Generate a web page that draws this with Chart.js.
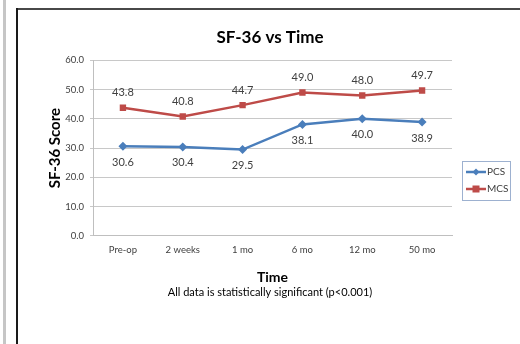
<!DOCTYPE html>
<html>
<head>
<meta charset="utf-8">
<script src="https://cdn.jsdelivr.net/npm/chart.js@4/dist/chart.umd.min.js"></script>
<style>
  html, body { margin: 0; padding: 0; background: #fff; overflow: hidden; }
  canvas { display: block; }
</style>
</head>
<body>
<canvas id="c" width="520" height="344"></canvas>
<script>
const categories = ["Pre-op", "2 weeks", "1 mo", "6 mo", "12 mo", "50 mo"];
const pcsValues = [30.6, 30.4, 29.5, 38.1, 40.0, 38.9];
const mcsValues = [43.8, 40.8, 44.7, 49.0, 48.0, 49.7];
const yTicks = [0, 10, 20, 30, 40, 50, 60];
const seriesNames = ["PCS", "MCS"];

const FONT = "Lato, 'Open Sans', sans-serif";
const PCS_COLOR = "#4A7EBB";
const MCS_COLOR = "#BE4B48";

const frame = {
  id: "frame",
  beforeDraw(chart) {
    const ctx = chart.ctx;
    ctx.save();
    ctx.fillStyle = "#fff";
    ctx.fillRect(0, 0, 520, 344);
    ctx.fillStyle = "#C6C6C6";
    ctx.fillRect(3, 0, 3, 344);
    ctx.fillStyle = "#484848";
    ctx.fillRect(16, 8, 504, 2);
    ctx.fillStyle = "#1a1a1a";
    ctx.fillRect(16, 8, 2, 336);
    ctx.restore();
  }
};

const dataLabels = {
  id: "dataLabels",
  afterDatasetsDraw(chart) {
    const ctx = chart.ctx;
    ctx.save();
    ctx.font = "11px " + FONT;
    ctx.fillStyle = "#404040";
    ctx.textAlign = "center";
    ctx.textBaseline = "middle";
    chart.data.datasets.forEach((ds, i) => {
      const meta = chart.getDatasetMeta(i);
      meta.data.forEach((pt, j) => {
        const v = ds.data[j].toFixed(1);
        const dy = i === 0 ? 16 : -15;
        ctx.fillText(v, pt.x, pt.y + dy);
      });
    });
    ctx.restore();
  }
};

const customLegend = {
  id: "customLegend",
  afterDraw(chart) {
    const ctx = chart.ctx;
    ctx.save();
    const x0 = 462, y0 = 161, w = 48, h = 39;
    ctx.strokeStyle = "#9DB1D0";
    ctx.lineWidth = 1;
    ctx.strokeRect(x0 + 0.5, y0 + 0.5, w, h);
    const rows = [172, 189];
    chart.data.datasets.forEach((ds, i) => {
      const y = rows[i];
      ctx.strokeStyle = ds.borderColor;
      ctx.lineWidth = 2.5;
      ctx.beginPath();
      ctx.moveTo(466, y);
      ctx.lineTo(486, y);
      ctx.stroke();
      ctx.fillStyle = ds.backgroundColor;
      if (i === 0) {
        ctx.beginPath();
        ctx.moveTo(476, y - 3.5); ctx.lineTo(479.5, y); ctx.lineTo(476, y + 3.5); ctx.lineTo(472.5, y);
        ctx.closePath(); ctx.fill();
      } else {
        ctx.fillRect(472.5, y - 3.5, 7, 7);
      }
      ctx.fillStyle = "#404040";
      ctx.font = "10px " + FONT;
      ctx.textAlign = "left";
      ctx.textBaseline = "middle";
      ctx.fillText(ds.label, 487, y);
    });
    ctx.restore();
  }
};

new Chart(document.getElementById("c"), {
  type: "line",
  data: {
    labels: categories,
    datasets: [
      {
        label: seriesNames[0], data: pcsValues,
        borderColor: PCS_COLOR, backgroundColor: PCS_COLOR,
        borderWidth: 2.5, pointStyle: "rectRot", pointRadius: 4.5,
        pointBorderWidth: 0, tension: 0
      },
      {
        label: seriesNames[1], data: mcsValues,
        borderColor: MCS_COLOR, backgroundColor: MCS_COLOR,
        borderWidth: 2.5, pointStyle: "rect", pointRadius: 4.5,
        pointBorderWidth: 0, tension: 0
      }
    ]
  },
  options: {
    responsive: false,
    animation: false,
    layout: { padding: { left: 40, right: 20, top: 0, bottom: 45 } },
    plugins: {
      legend: { display: false },
      tooltip: { enabled: false },
      title: {
        display: true, text: "SF-36 vs Time", color: "#000",
        font: { family: FONT, size: 17, weight: "bold" },
        padding: { top: 27, bottom: 13 }
      },
      subtitle: {
        display: true, position: "bottom",
        text: "All data is statistically significant (p<0.001)", color: "#000",
        font: { family: FONT, size: 11 },
        padding: { top: 0, bottom: 0 }
      }
    },
    scales: {
      x: {
        offset: true,
        grid: { display: false, drawTicks: false },
        border: { display: true, color: "#BFBFBF", width: 1 },
        ticks: { color: "#404040", font: { family: FONT, size: 9.5 }, padding: 8 },
        title: {
          display: true, text: "Time", color: "#000",
          font: { family: FONT, size: 14, weight: "bold" },
          padding: { top: 0, bottom: 0 }
        },
        afterFit(scale) { scale.height = 50; }
      },
      y: {
        min: 0, max: 60,
        afterBuildTicks(scale) { scale.ticks = yTicks.map(v => ({ value: v })); },
        grid: { color: "#C8C8C8", lineWidth: 1, tickLength: 3, drawTicks: true },
        border: { display: true, color: "#BFBFBF", width: 1 },
        ticks: {
          color: "#404040", font: { family: FONT, size: 9.5 }, padding: 6,
          callback: (v) => Number(v).toFixed(1)
        },
        title: {
          display: true, text: "SF-36 Score", color: "#000",
          font: { family: FONT, size: 15, weight: "bold" },
          padding: { top: 6, bottom: 0 }
        },
        afterFit(scale) { scale.width = 53; }
      },
      yRight: {
        type: "linear", position: "right", display: true,
        grid: { display: false, drawTicks: false },
        border: { display: false },
        ticks: { display: false },
        afterFit(scale) { scale.width = 48; }
      }
    }
  },
  plugins: [frame, dataLabels, customLegend]
});
</script>
</body>
</html>
